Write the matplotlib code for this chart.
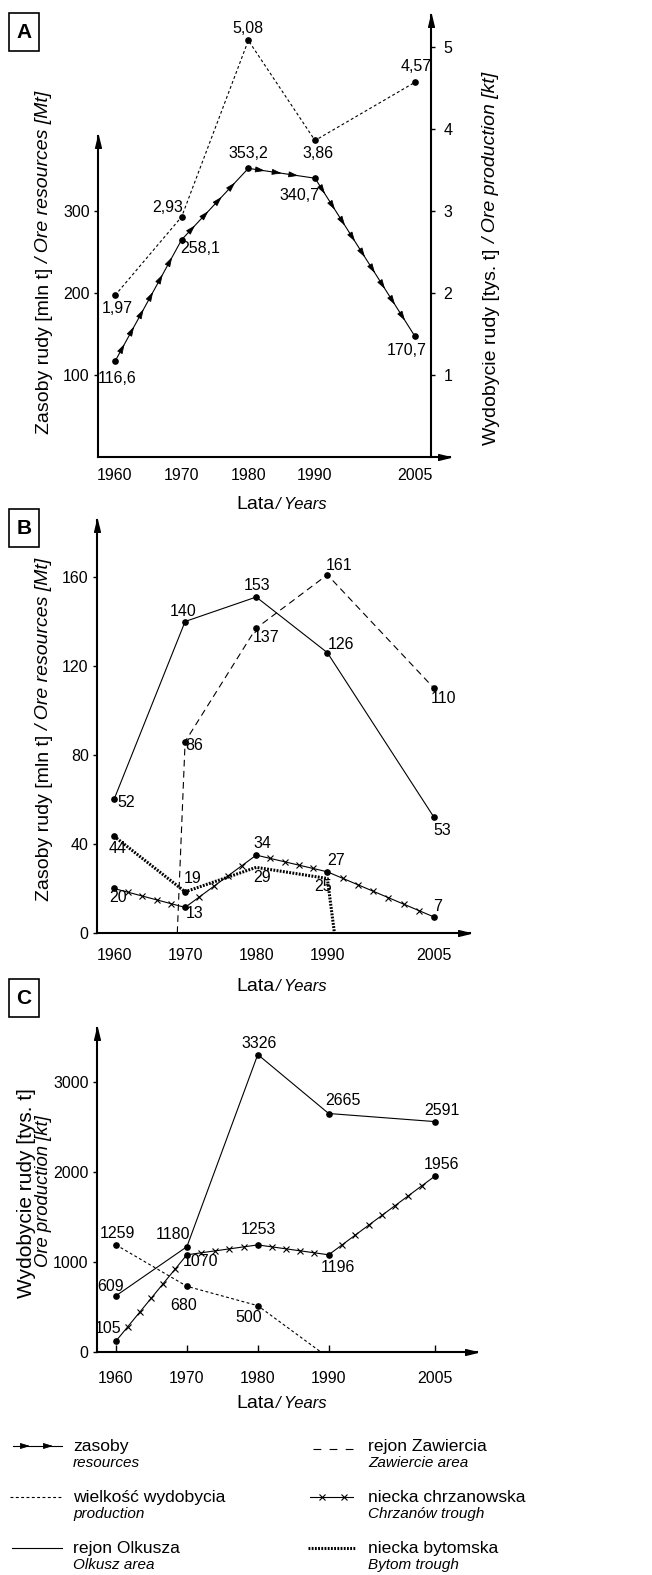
import numpy as np
import matplotlib.pyplot as plt

NARROW = ['Liberation Sans Narrow', 'Liberation Sans', 'DejaVu Sans']
WIDE = ['Liberation Sans', 'DejaVu Sans']
plt.rcParams['font.family'] = NARROW

W, H = 652, 1575

# ---------------- data ----------------
years = [1960, 1970, 1980, 1990, 2005]
year_lbl = ['1960', '1970', '1980', '1990', '2005']

# A: total resources [Mt] (as drawn) and production [kt]
res_total = [116.6, 265, 352, 340, 147]
res_total_lbl = ['116,6', '258,1', '353,2', '340,7', '170,7']
prod_total = [1.97, 2.93, 5.08, 3.86, 4.57]
prod_total_lbl = ['1,97', '2,93', '5,08', '3,86', '4,57']

# B: resources by area [Mt]
olk_res = [60, 140, 151, 126, 52]
olk_res_lbl = ['52', '140', '153', '126', '53']
zaw_start = 1968.9
zaw_years = [1970, 1980, 1990, 2005]
zaw_res = [86, 137, 161, 110]
zaw_res_lbl = ['86', '137', '161', '110']
chrz_res = [20, 11.5, 35, 27.5, 7.2]
chrz_res_lbl = ['20', '13', '34', '27', '7']
byt_years = [1960, 1970, 1980, 1990]
byt_res = [43.5, 18.5, 29.5, 24.5]
byt_res_lbl = ['44', '19', '29', '25']
byt_end = 1991

# C: production by area [kt]
olk_prod = [625, 1170, 3305, 2650, 2560]
olk_prod_lbl = ['609', '1180', '3326', '2665', '2591']
chrz_prod = [122, 1080, 1190, 1080, 1955]
chrz_prod_lbl = ['105', '1070', '1253', '1196', '1956']
byt_prod_years = [1960, 1970, 1980]
byt_prod = [1190, 730, 515]
byt_prod_lbl = ['1259', '680', '500']
byt_prod_end = 1988.9

# ---------------- label offsets (pixels) ----------------
res_total_off = [(2, -17), (19, -9), (0, 15), (-16, -17), (-8, -14)]
prod_total_off = [(2, -13), (-14, 9), (0, 12), (3, -13), (1, 16)]
olk_res_off = [(12, -3), (-2, 10), (1, 12), (14, 8), (8, -13)]
zaw_res_off = [(9, -4), (10, -9), (12, 9), (10, -10)]
chrz_res_off = [(4, -9), (10, -6), (6, 12), (9, 11), (4, 10)]
byt_res_off = [(4, -12), (8, 13), (6, -10), (-4, -8)]
olk_prod_off = [(-5, 9), (-14, 12), (1, 11), (14, 13), (7, 11)]
chrz_prod_off = [(-8, 13), (14, -7), (1, 15), (9, -13), (7, 12)]
byt_prod_off = [(1, 11), (-3, -19), (-9, -12)]

LW = 0.8
AX_LW = 1.5
FS = 11.5
PROD_LS = (0, (2.6, 2.2))
DOT = dict(marker='o', ms=3.8, color='k', ls='none', zorder=5)
UP = [(0, 0), (-1.1, -4.5), (1.1, -4.5), (0, 0)]
RIGHT = [(0, 0), (-4.5, 1.1), (-4.5, -1.1), (0, 0)]
HEAD = dict(arrowstyle='-|>,head_length=0.65,head_width=0.2', color='k',
            lw=0.6, shrinkA=0, shrinkB=0, mutation_scale=9)


def fx(x):
    return x / W


def fy(y):
    return 1 - y / H


def make_axes(left, right, top, bottom, x1960, x2005, y0, ytick_px, ytick_val):
    ax = fig.add_axes([fx(left), fy(bottom), (right - left) / W, (bottom - top) / H])
    s = (x2005 - x1960) / 45.0
    ax.set_xlim(1960 + (left - x1960) / s, 1960 + (right - x1960) / s)
    sy = (y0 - ytick_px) / ytick_val
    ax.set_ylim(0, (bottom - top) / sy)
    ax.patch.set_visible(False)
    for sp in ['top', 'right']:
        ax.spines[sp].set_visible(False)
    for sp in ['left', 'bottom']:
        ax.spines[sp].set_linewidth(AX_LW)
    ax.set_xticks(years, year_lbl)
    ax.tick_params(axis='y', direction='out', length=3, width=1, pad=3, labelsize=FS)
    ax.tick_params(axis='x', length=0, labelsize=FS)
    ax.plot(1, 0, marker=RIGHT, ms=17, color='k', transform=ax.transAxes, clip_on=False)
    return ax


def up_arrow(ax, val):
    ax.plot(0, val, marker=UP, ms=17, color='k', transform=ax.get_yaxis_transform(), clip_on=False)


def along(xs, ys, counts):
    pts = []
    for i, n in enumerate(counts):
        for k in range(1, n + 1):
            f = k / (n + 1)
            pts.append((xs[i] + f * (xs[i + 1] - xs[i]), ys[i] + f * (ys[i + 1] - ys[i]),
                        xs[i + 1] - xs[i], ys[i + 1] - ys[i]))
    return pts


def labels(ax, xs, ys, lbls, offs):
    for x, y, t, (dx, dy) in zip(xs, ys, lbls, offs):
        ax.annotate(t, (x, y), xytext=(dx, dy), textcoords='offset pixels',
                    ha='center', va='center', fontsize=FS, zorder=6)


fig = plt.figure(figsize=(W / 100, H / 100), dpi=100)

# ================= panel A =================
axA = make_axes(98, 450, 15, 457, 115, 415, 457, 375, 100)
axA.spines['left'].set_bounds(0, 392)
up_arrow(axA, 392)
axA.set_yticks([100, 200, 300])
axA.tick_params(axis='x', pad=8)

axA2 = axA.twinx()
axA2.set_ylim(0, axA.get_ylim()[1] / 100)
for sp in ['top', 'left', 'bottom']:
    axA2.spines[sp].set_visible(False)
axA2.spines['right'].set_position(('data', 2007.4))
axA2.spines['right'].set_linewidth(AX_LW)
axA2.set_yticks([1, 2, 3, 4, 5])
axA2.tick_params(axis='y', direction='out', length=3, width=1, pad=6, labelsize=FS)
axA2.plot(2007.4, 1, marker=UP, ms=17, color='k', transform=axA2.get_xaxis_transform(), clip_on=False)

axA.plot(years, res_total, color='k', lw=LW)
axA.plot(years, res_total, **DOT)
for x, y, dx, dy in along(years, res_total, [6, 4, 3, 9]):
    axA.annotate('', xy=(x, y), xytext=(x - 0.05 * dx, y - 0.05 * dy), arrowprops=HEAD)
labels(axA, years, res_total, res_total_lbl, res_total_off)

axA2.plot(years, prod_total, color='k', lw=LW, ls=PROD_LS)
axA2.plot(years, prod_total, **DOT)
labels(axA2, years, prod_total, prod_total_lbl, prod_total_off)

# ================= panel B =================
axB = make_axes(97, 470, 520, 933, 114, 434, 933, 844, 40)
axB.set_yticks([0, 40, 80, 120, 160])
axB.tick_params(axis='x', pad=11)
axB.plot(0, 1, marker=UP, ms=17, color='k', transform=axB.transAxes, clip_on=False)

axB.plot(years, olk_res, color='k', lw=LW)
axB.plot(years, olk_res, **DOT)
labels(axB, years, olk_res, olk_res_lbl, olk_res_off)

axB.plot([zaw_start] + zaw_years, [0] + zaw_res, color='k', lw=LW, ls=(0, (6, 4)))
axB.plot(zaw_years, zaw_res, **DOT)
labels(axB, zaw_years, zaw_res, zaw_res_lbl, zaw_res_off)

axB.plot(years, chrz_res, color='k', lw=LW)
axB.plot(years, chrz_res, **DOT)
cx = along(years, chrz_res, [4, 4, 4, 6])
axB.plot([p[0] for p in cx], [p[1] for p in cx], marker='x', ms=4, mew=0.8, color='k', ls='none')
labels(axB, years, chrz_res, chrz_res_lbl, chrz_res_off)

axB.plot(byt_years + [byt_end], byt_res + [0], color='k', lw=2.2, ls=(0, (0.6, 0.45)))
axB.plot(byt_years[:2], byt_res[:2], **DOT)
labels(axB, byt_years, byt_res, byt_res_lbl, byt_res_off)

# ================= panel C =================
axC = make_axes(97, 477, 1028, 1352, 116, 435, 1352, 1262, 1000)
axC.set_yticks([0, 1000, 2000, 3000])
axC.tick_params(axis='x', direction='in', length=5, width=1, pad=14)
axC.plot(0, 1, marker=UP, ms=17, color='k', transform=axC.transAxes, clip_on=False)

axC.plot(years, olk_prod, color='k', lw=LW)
axC.plot(years, olk_prod, **DOT)
labels(axC, years, olk_prod, olk_prod_lbl, olk_prod_off)

axC.plot(years, chrz_prod, color='k', lw=LW)
axC.plot(years, chrz_prod, **DOT)
cx = along(years, chrz_prod, [5, 4, 4, 7])
axC.plot([p[0] for p in cx], [p[1] for p in cx], marker='x', ms=4, mew=0.8, color='k', ls='none')
labels(axC, years, chrz_prod, chrz_prod_lbl, chrz_prod_off)

axC.plot(byt_prod_years + [byt_prod_end], byt_prod + [0], color='k', lw=LW, ls=PROD_LS)
axC.plot(byt_prod_years, byt_prod, **DOT)
labels(axC, byt_prod_years, byt_prod, byt_prod_lbl, byt_prod_off)

# ================= overlay: texts, boxes, legend =================
ov = fig.add_axes([0, 0, 1, 1])
ov.set_xlim(0, W)
ov.set_ylim(H, 0)
ov.axis('off')
renderer = fig.canvas.get_renderer()


def parts_text(parts, x, y, rot=0, gap=4):
    objs = []
    for s, st, sz in parts:
        objs.append(ov.text(0, 0, s, fontstyle=st, fontsize=sz, rotation=rot, family=WIDE,
                            rotation_mode='anchor', ha='left', va='baseline'))
    lens = []
    for t in objs:
        bb = t.get_window_extent(renderer)
        lens.append(bb.width if rot == 0 else bb.height)
    total = sum(lens) + gap * (len(objs) - 1)
    pos = -total / 2
    for t, L in zip(objs, lens):
        if rot == 0:
            t.set_position((x + pos, y))
        else:
            t.set_position((x, y - pos))
        pos += L + gap


ylab_res = [('Zasoby rudy [mln t]', 'normal', 14), ('/ Ore resources [Mt]', 'italic', 14)]
parts_text(ylab_res, 49, 263, rot=90)
parts_text([('Wydobycie rudy [tys. t]', 'normal', 14), ('/ Ore production [kt]', 'italic', 14)],
           496, 259, rot=90)
parts_text(ylab_res, 49, 730, rot=90)
parts_text([('Wydobycie rudy [tys. t]', 'normal', 15)], 32, 1193, rot=90)
parts_text([('Ore production [kt]', 'italic', 13.3)], 48, 1191, rot=90)

for yb in [509, 991, 1408]:
    parts_text([('Lata', 'normal', 14), ('/ Years', 'italic', 12)], 282, yb, gap=2)

for letter, top in [('A', 13), ('B', 509), ('C', 979)]:
    ov.add_patch(plt.Rectangle((8.5, top), 30.5, 38, fill=False, lw=1.2, ec='k'))
    ov.text(23.75, top + 19.5, letter, fontsize=15, fontweight='bold', family=WIDE,
            ha='center', va='center')

# legend
rows = [1446, 1497, 1548]
ov.plot([13, 62], [rows[0]] * 2, color='k', lw=LW)
for xa in [30, 53]:
    ov.annotate('', xy=(xa, rows[0]), xytext=(xa - 3, rows[0]), arrowprops=HEAD)
ov.plot([10, 62], [rows[1]] * 2, color='k', lw=LW, ls=PROD_LS)
ov.plot([12, 62], [rows[2]] * 2, color='k', lw=LW)
ov.plot([313, 353], [rows[0] + 3] * 2, color='k', lw=LW, ls=(0, (7, 7.5)))
ov.plot([310, 353], [rows[1]] * 2, color='k', lw=LW)
ov.plot([322, 344], [rows[1]] * 2, marker='x', ms=4, mew=0.8, color='k', ls='none')
ov.plot([308, 355], [rows[2]] * 2, color='k', lw=2.2, ls=(0, (0.6, 0.45)))

leg_pl = ['zasoby', 'wielkość wydobycia', 'rejon Olkusza',
          'rejon Zawiercia', 'niecka chrzanowska', 'niecka bytomska']
leg_en = ['resources', 'production', 'Olkusz area',
          'Zawiercie area', 'Chrzanów trough', 'Bytom trough']
for i, (pl, en) in enumerate(zip(leg_pl, leg_en)):
    xt = 73 if i < 3 else 368
    r = rows[i % 3]
    ov.text(xt, r + 5, pl, fontsize=12.6, family=WIDE, va='baseline')
    ov.text(xt, r + 21, en, fontsize=11, fontstyle='italic', family=WIDE, va='baseline')

fig.savefig('out.png', dpi=100)
